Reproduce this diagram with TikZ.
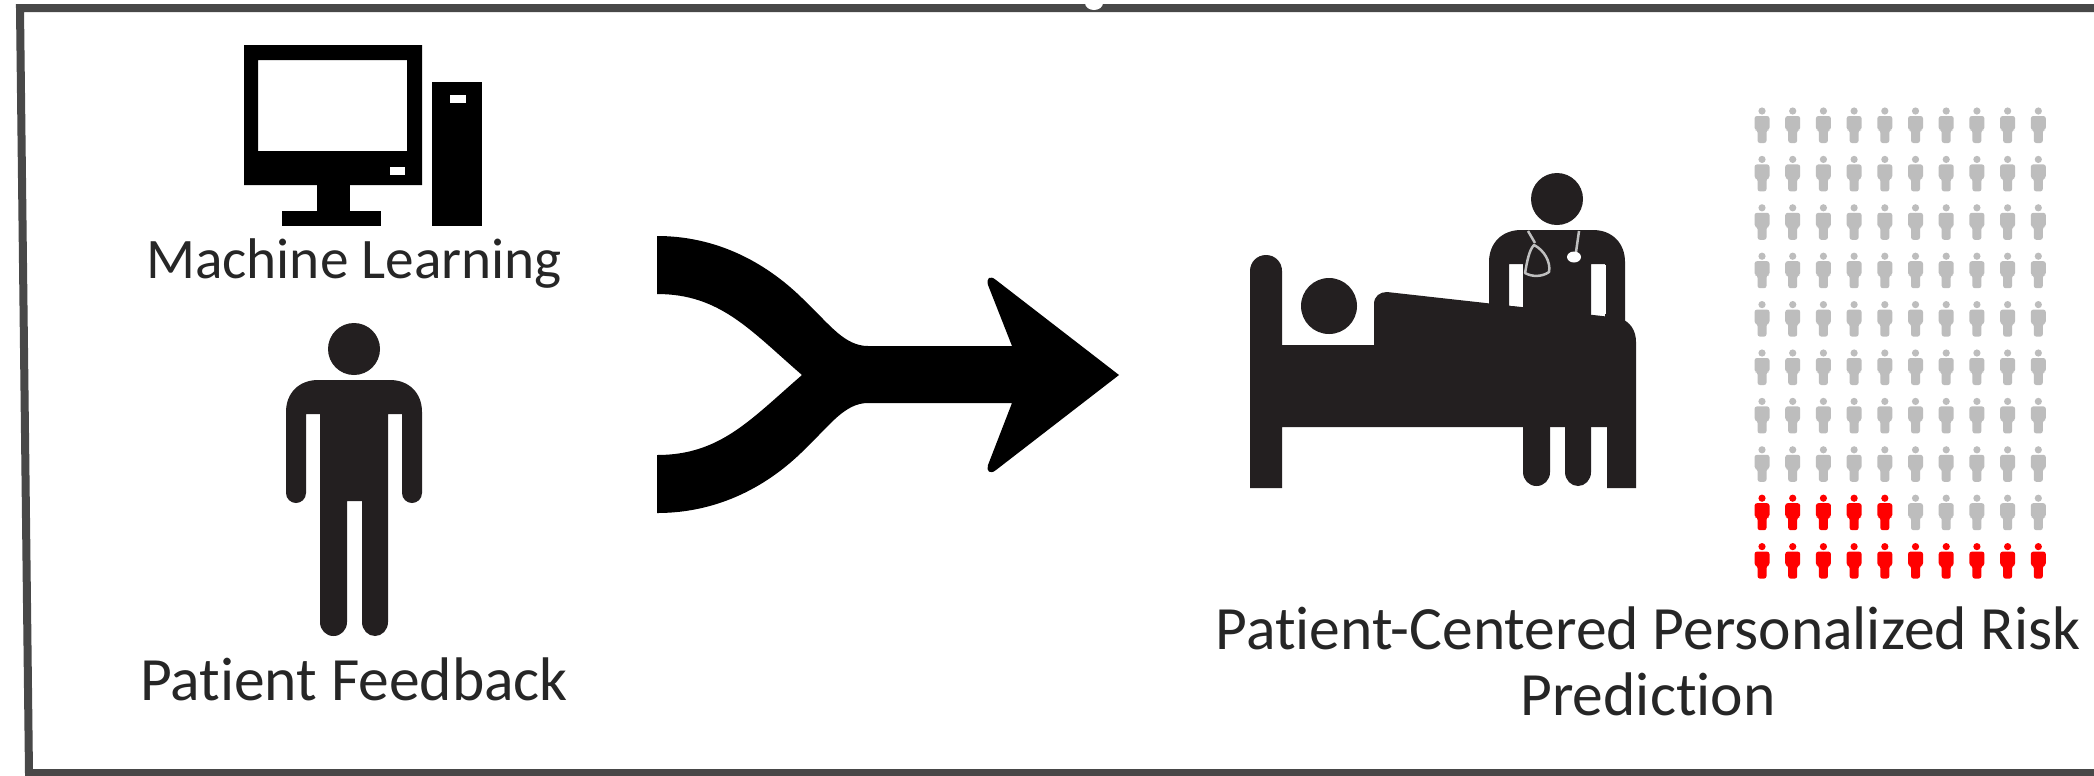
\documentclass[tikz,border=0pt]{standalone}
\usepackage{fontspec}
\setmainfont[Ligatures=CommonOff]{Carlito}
\usetikzlibrary{positioning}
\definecolor{cblack}{HTML}{231F20}
\definecolor{cgrey}{HTML}{BDBDBD}
\definecolor{cred}{HTML}{FF0000}
\definecolor{cframe}{HTML}{484848}
\definecolor{ctext}{HTML}{262626}
\tikzset{
  every picture/.style={x=0.01cm, y=-0.01cm},
  lbl/.style={font=\fontsize{#1pt}{18.8pt}\selectfont, text=ctext, align=center, inner sep=0pt},
  steth/.style={draw=black!25, line width=0.25mm, line join=round},
}
% full-size figure, used twice
\newcommand{\personshape}{%
  \fill[cblack] (354,349) circle (26);
  \fill[cblack] (320,501) -- (320,414) -- (306,414) -- (306,493) .. controls (306,499) and (301,503) .. (296,503) .. controls (291,503) and (286,499) .. (286,493)
    -- (286,412) .. controls (286,393) and (299,380) .. (318,380) -- (390,380) .. controls (409,380) and (422,393) .. (422,412)
    -- (422,493) .. controls (422,499) and (417,503) .. (412,503) .. controls (407,503) and (402,499) .. (402,493) -- (402,414) -- (388,414)
    -- (388,622) .. controls (388,630) and (382,636) .. (375,636) .. controls (368,636) and (362,630) .. (362,622) -- (362,501)
    -- (347,501) -- (347,622) .. controls (347,630) and (341,636) .. (333.5,636) .. controls (326,636) and (320,630) .. (320,622) -- cycle;
}
% small figure of the grid
\newcommand{\tinyman}[3]{%
  \fill[#3] (#1,#2+4) circle (3.6);
  \fill[#3, rounded corners=0.7pt] (#1-7.5,#2+9) -- (#1+7.5,#2+9) -- (#1+7.5,#2+23) -- (#1+4.5,#2+23) -- (#1+4.5,#2+36) -- (#1-4.5,#2+36) -- (#1-4.5,#2+23) -- (#1-7.5,#2+23) -- cycle;
}
\begin{document}
\begin{tikzpicture}
  \useasboundingbox (0,0) rectangle (2094,775);
  \fill[white] (0,0) rectangle (2094,775);
  % frame
  \draw[cframe, line width=0.08cm] (2094,8) -- (20,8) -- (29,773) -- (2094,773);
  \fill[white] (1094,3) ellipse (9 and 7);
  % computer
  \fill[black, even odd rule] (244,45) rectangle (422,185) (258,60) rectangle (407,151);
  \fill[white] (390,167) rectangle (405,175);
  \fill[black] (317,185) rectangle (350,212);
  \fill[black] (282,211) rectangle (381,226);
  \fill[black] (432,82) rectangle (482,226);
  \fill[white] (450,95) rectangle (466,103);
  \node[lbl=16.3] (ml) at (354,264) {Machine Learning};
  % patient
  \personshape
  \node[lbl=17.5] (pf) at (354,679) {Patient Feedback};
  % merging arrow
  \fill[black] (657,236) .. controls (725,236) and (775,270) .. (807,303) .. controls (830,325) and (845,346) .. (868,346)
    -- (1012,346) -- (988,285) .. controls (986,278) and (990,275) .. (996,280) -- (1119,375) -- (996,470) .. controls (990,475) and (986,471) .. (988,465)
    -- (1012,403) -- (868,403) .. controls (845,403) and (830,425) .. (807,447) .. controls (775,480) and (725,513) .. (657,513)
    -- (657,455) .. controls (720,455) and (750,420) .. (802,375) .. controls (750,330) and (720,294) .. (657,294) -- cycle;
  % bed with patient
  \fill[cblack] (1250,488) -- (1250,271) .. controls (1250,262) and (1257,255) .. (1266,255) .. controls (1275,255) and (1282,262) .. (1282,271)
    -- (1282,345) -- (1374,345) -- (1374,304) .. controls (1374,296) and (1380,292) .. (1387,292) -- (1620,318) .. controls (1630,322) and (1636,330) .. (1636,342)
    -- (1636,488) -- (1607,488) -- (1607,427) -- (1282,427) -- (1282,488) -- cycle;
  \fill[cblack] (1329,306) circle (28);
  % doctor
  \begin{scope}[shift={(1203,-150)}]
    \personshape
  \end{scope}
  \fill[white] (1511,265) rectangle (1523,306);
  \fill[white] (1592,265) rectangle (1606,314);
  \draw[steth] (1528,231) -- (1535,243);
  \draw[steth] (1534,245) .. controls (1529,250) and (1527,262) .. (1525,273) .. controls (1532,277) and (1542,277) .. (1549,272) .. controls (1551,262) and (1544,250) .. (1534,245) -- cycle;
  \draw[steth] (1579,231) -- (1576,252);
  \fill[white] (1574,257) ellipse (7 and 5.5);
  % risk grid
  \foreach \r in {0,...,9} {
    \foreach \c in {0,...,9} {
      \pgfmathsetmacro{\x}{1762+30.7*\c}
      \pgfmathsetmacro{\y}{107+48.4*\r}
      \pgfmathparse{(\r==9 || (\r==8 && \c<5)) ? 1 : 0}
      \ifnum\pgfmathresult=1
        \tinyman{\x}{\y}{cred}
      \else
        \tinyman{\x}{\y}{cgrey}
      \fi
    }
  }
  \node[lbl=17.5] (risk) at (1648,661) {Patient-Centered Personalized Risk\\Prediction};
\end{tikzpicture}
\end{document}
